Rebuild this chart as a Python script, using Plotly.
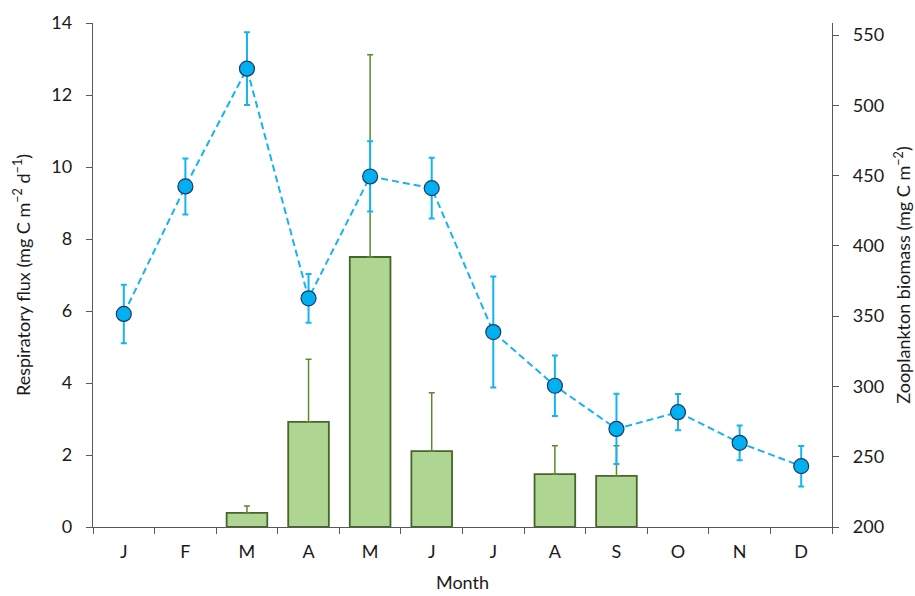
import plotly.graph_objects as go

months = ["J", "F", "M", "A", "M", "J", "J", "A", "S", "O", "N", "D"]

# Respiratory flux (left axis), with upper standard deviation
resp_flux = [None, None, 0.39, 2.92, 7.50, 2.11, None, 1.47, 1.42, None, None, None]
resp_err = [0, 0, 0.19, 1.74, 5.62, 1.62, 0, 0.79, 0.84, 0, 0, 0]

# Zooplankton biomass (right axis), with standard deviation
biomass = [351.6, 442.3, 526.1, 362.7, 449.4, 441.1, 338.7, 300.5, 269.8, 281.7, 259.9, 243.3]
biomass_err = [20.8, 19.9, 25.9, 17.4, 25.0, 21.6, 39.5, 21.5, 25.0, 12.9, 12.4, 14.4]

x = list(range(len(months)))
font_family = "Lato, 'Open Sans', sans-serif"
axis_color = "#595959"

fig = go.Figure()

fig.add_trace(go.Bar(
    x=x, y=resp_flux,
    marker=dict(color="#aed591", line=dict(color="#46652a", width=1.8)),
    error_y=dict(type="data", symmetric=False, array=resp_err,
                 arrayminus=[0] * len(resp_err),
                 color="#5b8a32", thickness=1.5, width=3),
    yaxis="y", showlegend=False,
))

fig.add_trace(go.Scatter(
    x=x, y=biomass, mode="lines+markers",
    line=dict(color="#16b4ef", width=2, dash="7px,4px"),
    marker=dict(size=15, color="#00b0f0", line=dict(color="#1f3864", width=1.2)),
    error_y=dict(type="data", array=biomass_err, color="#16b4ef",
                 thickness=2, width=3),
    yaxis="y2", showlegend=False,
))

fig.update_layout(
    width=915, height=596,
    margin=dict(l=93, r=83, t=23, b=69),
    paper_bgcolor="white", plot_bgcolor="white",
    font=dict(family=font_family, size=18, color="#1a1a1a"),
    bargap=0.34,
    xaxis=dict(
        range=[-0.5, 11.5], automargin=False,
        tickmode="array", tickvals=x, ticktext=months,
        ticks="", showgrid=False, zeroline=False,
        showline=True, linecolor=axis_color, linewidth=1.3,
        minor=dict(tickmode="array", tickvals=[i - 0.5 for i in range(13)],
                   ticks="outside", ticklen=6, tickcolor=axis_color,
                   tickwidth=1.3, showgrid=False),
        ticklabelstandoff=8,
        title=dict(text="Month", font=dict(size=18), standoff=15),
        tickfont=dict(size=18),
    ),
    yaxis=dict(
        range=[0, 14], tickmode="linear", tick0=0, dtick=2, automargin=False,
        ticks="outside", ticklen=6, tickcolor=axis_color, tickwidth=1.3,
        showgrid=False, zeroline=False,
        showline=True, linecolor=axis_color, linewidth=1.3,
        ticklabelstandoff=10,
        title=dict(text="Respiratory flux (mg C m<sup>−2</sup> d<sup>−1</sup>)",
                   font=dict(size=18), standoff=16),
        tickfont=dict(size=18),
    ),
    yaxis2=dict(
        range=[200, 558.6], overlaying="y", side="right", automargin=False,
        tickmode="array", tickvals=list(range(200, 551, 50)),
        ticks="outside", ticklen=6, tickcolor=axis_color, tickwidth=1.3,
        showgrid=False, zeroline=False,
        showline=True, linecolor=axis_color, linewidth=1.3,
        ticklabelstandoff=10,
        title=dict(text="Zooplankton biomass (mg C m<sup>−2</sup>)",
                   font=dict(size=18), standoff=14),
        tickfont=dict(size=18),
    ),
)

fig.write_html("out.html")
